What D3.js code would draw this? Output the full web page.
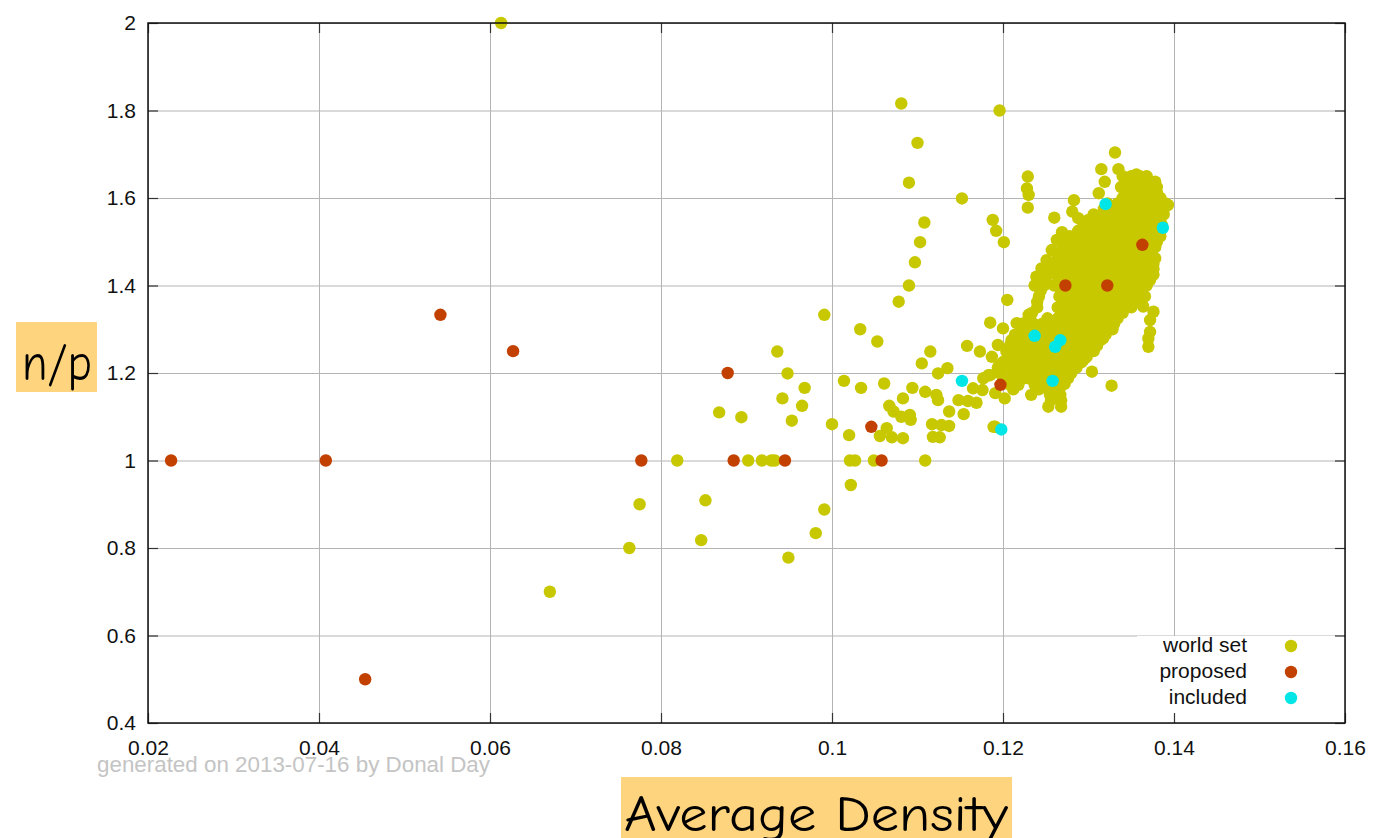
<!DOCTYPE html>
<html>
<head>
<meta charset="utf-8">
<script src="https://cdn.jsdelivr.net/npm/d3@7"></script>
<style>
  body { margin: 0; background: #fff; }
  .axis text { font-family: "Liberation Sans", Arial, Helvetica, sans-serif; font-size: 21px; fill: #111; }
  .axis path { display: none; }
  .axis line { stroke: #333; stroke-width: 1.2; }
  .grid line { stroke: #b4b4b4; stroke-width: 1; }
  .grid path { display: none; }
  .legend text { font-family: "Liberation Sans", Arial, Helvetica, sans-serif; font-size: 21px; fill: #111; }
  .label { font-family: "Comic Sans MS", "Comic Neue", "DejaVu Sans", sans-serif; fill: #000; }
</style>
</head>
<body>
<div class="chart"></div>
<script>
// axis ticks
var xTicks = [0.02, 0.04, 0.06, 0.08, 0.1, 0.12, 0.14, 0.16];
var xTickLabels = ["0.02", "0.04", "0.06", "0.08", "0.1", "0.12", "0.14", "0.16"];
var yTicks = [0.4, 0.6, 0.8, 1, 1.2, 1.4, 1.6, 1.8, 2];
var yTickLabels = ["0.4", "0.6", "0.8", "1", "1.2", "1.4", "1.6", "1.8", "2"];

var seriesNames = ["world set", "proposed", "included"];

// world set, scattered points [density, n/p]
var worldSet = [
  [0.0613, 2.0], [0.0670, 0.70], [0.0763, 0.80], [0.0775, 0.90], [0.0819, 1.0],
  [0.0847, 0.818], [0.0852, 0.909], [0.0868, 1.110], [0.0894, 1.099], [0.0902, 1.0],
  [0.0918, 1.0], [0.0929, 1.0], [0.0933, 1.0], [0.0936, 1.249], [0.0942, 1.142],
  [0.0948, 1.199], [0.0949, 0.778], [0.0953, 1.091], [0.0965, 1.125], [0.0968, 1.166],
  [0.0981, 0.834], [0.0991, 0.888], [0.0991, 1.333], [0.1000, 1.083], [0.1014, 1.182],
  [0.1020, 1.058], [0.1021, 1.0], [0.1022, 0.944], [0.1027, 1.0], [0.1033, 1.30],
  [0.1034, 1.166], [0.1049, 1.0], [0.1053, 1.272], [0.1061, 1.176], [0.1064, 1.074],
  [0.1056, 1.056], [0.1070, 1.053], [0.1083, 1.051], [0.1067, 1.125], [0.1072, 1.112],
  [0.1081, 1.10], [0.1091, 1.104], [0.1092, 1.093], [0.1083, 1.142], [0.1094, 1.166],
  [0.1109, 1.157], [0.1122, 1.150], [0.1124, 1.138], [0.1109, 1.0], [0.1117, 1.083],
  [0.1128, 1.081], [0.1137, 1.079], [0.1118, 1.054], [0.1126, 1.053], [0.1137, 1.112],
  [0.1148, 1.138], [0.1159, 1.136], [0.1169, 1.132], [0.1154, 1.106], [0.1165, 1.165],
  [0.1176, 1.161], [0.1177, 1.188], [0.1185, 1.195], [0.1191, 1.077], [0.1105, 1.222],
  [0.1124, 1.199], [0.1135, 1.211], [0.1115, 1.249], [0.1158, 1.262], [0.1173, 1.249],
  [0.1081, 1.816], [0.1196, 1.80], [0.1100, 1.726], [0.1090, 1.635], [0.1152, 1.599],
  [0.1108, 1.544], [0.1103, 1.499], [0.1097, 1.453], [0.1090, 1.400], [0.1078, 1.363],
  [0.1188, 1.550], [0.1192, 1.525], [0.1201, 1.499], [0.1205, 1.367], [0.1185, 1.315],
  [0.1200, 1.302], [0.1229, 1.649], [0.1228, 1.622], [0.1230, 1.607], [0.1229, 1.578],
  [0.1283, 1.595], [0.1281, 1.569], [0.1260, 1.555], [0.1269, 1.522], [0.1288, 1.554],
  [0.1331, 1.704], [0.1315, 1.666], [0.1335, 1.666], [0.1319, 1.637], [0.1356, 1.654],
  [0.1365, 1.637], [0.1380, 1.611], [0.1393, 1.584], [0.1312, 1.611],
  [0.1263, 1.504], [0.1257, 1.481], [0.1251, 1.458], [0.1245, 1.439], [0.1239, 1.420],
  [0.1237, 1.400], [0.1216, 1.314], [0.1220, 1.294], [0.1230, 1.333], [0.1194, 1.264],
  [0.1187, 1.237], [0.1204, 1.249], [0.1218, 1.264], [0.1210, 1.226], [0.1196, 1.218],
  [0.1183, 1.195], [0.1191, 1.154], [0.1202, 1.142], [0.1218, 1.173], [0.1230, 1.188],
  [0.1233, 1.150], [0.1253, 1.123], [0.1268, 1.123], [0.1255, 1.150], [0.1267, 1.150],
  [0.1237, 1.173], [0.1224, 1.195], [0.1304, 1.203], [0.1327, 1.171], [0.1189, 1.077],
  [0.1376, 1.340], [0.1372, 1.321], [0.1372, 1.294], [0.1370, 1.279], [0.1370, 1.260],
  [0.1364, 1.352], [0.1296, 1.234], [0.1308, 1.279], [0.1317, 1.279], [0.1294, 1.230],
  [0.1306, 1.253]
];

// world set, dense core read row by row: [n/p, [densities]]
var worldCore = [
  [1.65, [0.1340, 0.1350, 0.1360, 0.1368]],
  [1.6375, [0.1344, 0.1356, 0.1368, 0.1378]],
  [1.625, [0.1338, 0.1348, 0.1360, 0.1372, 0.1380]],
  [1.6125, [0.1344, 0.1356, 0.1368, 0.1380]],
  [1.60, [0.1340, 0.1352, 0.1364, 0.1376, 0.1384]],
  [1.5875, [0.1322, 0.1334, 0.1346, 0.1358, 0.1370, 0.1382, 0.1390]],
  [1.575, [0.1318, 0.1328, 0.1340, 0.1352, 0.1364, 0.1376, 0.1388]],
  [1.5625, [0.1306, 0.1318, 0.1330, 0.1342, 0.1354, 0.1366, 0.1378, 0.1388]],
  [1.55, [0.1300, 0.1312, 0.1324, 0.1336, 0.1348, 0.1360, 0.1372, 0.1384]],
  [1.5375, [0.1294, 0.1306, 0.1318, 0.1330, 0.1342, 0.1354, 0.1366, 0.1378, 0.1386]],
  [1.525, [0.1288, 0.1300, 0.1312, 0.1324, 0.1336, 0.1348, 0.1360, 0.1372, 0.1384]],
  [1.5125, [0.1278, 0.1290, 0.1302, 0.1314, 0.1326, 0.1338, 0.1350, 0.1362, 0.1374, 0.1384]],
  [1.50, [0.1272, 0.1284, 0.1296, 0.1308, 0.1320, 0.1332, 0.1344, 0.1356, 0.1368, 0.1380]],
  [1.4875, [0.1270, 0.1282, 0.1294, 0.1306, 0.1318, 0.1330, 0.1342, 0.1354, 0.1366, 0.1378]],
  [1.475, [0.1266, 0.1278, 0.1290, 0.1302, 0.1314, 0.1326, 0.1338, 0.1350, 0.1362, 0.1374]],
  [1.4625, [0.1264, 0.1276, 0.1288, 0.1300, 0.1312, 0.1324, 0.1336, 0.1348, 0.1360, 0.1372, 0.1378]],
  [1.45, [0.1260, 0.1272, 0.1284, 0.1296, 0.1308, 0.1320, 0.1332, 0.1344, 0.1356, 0.1368, 0.1376]],
  [1.4375, [0.1256, 0.1268, 0.1280, 0.1292, 0.1304, 0.1316, 0.1328, 0.1340, 0.1352, 0.1364, 0.1376]],
  [1.425, [0.1250, 0.1262, 0.1274, 0.1286, 0.1298, 0.1310, 0.1322, 0.1334, 0.1346, 0.1358, 0.1370, 0.1376]],
  [1.4125, [0.1250, 0.1266, 0.1278, 0.1290, 0.1302, 0.1314, 0.1326, 0.1340, 0.1352, 0.1364, 0.1372]],
  [1.40, [0.1248, 0.1260, 0.1272, 0.1284, 0.1296, 0.1308, 0.1320, 0.1334, 0.1346, 0.1358, 0.1368]],
  [1.3875, [0.1244, 0.1268, 0.1280, 0.1292, 0.1304, 0.1316, 0.1328, 0.1340, 0.1352, 0.1362]],
  [1.375, [0.1242, 0.1266, 0.1278, 0.1290, 0.1302, 0.1314, 0.1326, 0.1338, 0.1350, 0.1360, 0.1366]],
  [1.3625, [0.1240, 0.1270, 0.1282, 0.1294, 0.1306, 0.1318, 0.1330, 0.1342, 0.1354, 0.1360]],
  [1.35, [0.1240, 0.1264, 0.1276, 0.1288, 0.1300, 0.1312, 0.1324, 0.1336, 0.1350]],
  [1.3375, [0.1234, 0.1270, 0.1282, 0.1294, 0.1306, 0.1318, 0.1330, 0.1340]],
  [1.325, [0.1230, 0.1252, 0.1264, 0.1276, 0.1288, 0.1300, 0.1312, 0.1324, 0.1334]],
  [1.3125, [0.1222, 0.1236, 0.1246, 0.1258, 0.1270, 0.1282, 0.1294, 0.1306, 0.1318, 0.1330]],
  [1.30, [0.1226, 0.1238, 0.1250, 0.1262, 0.1274, 0.1286, 0.1298, 0.1310, 0.1322, 0.1328]],
  [1.2875, [0.1214, 0.1228, 0.1240, 0.1252, 0.1264, 0.1276, 0.1288, 0.1300, 0.1312, 0.1320]],
  [1.275, [0.1210, 0.1222, 0.1234, 0.1246, 0.1258, 0.1270, 0.1282, 0.1294, 0.1306, 0.1314]],
  [1.2625, [0.1208, 0.1220, 0.1232, 0.1244, 0.1256, 0.1268, 0.1280, 0.1292, 0.1302, 0.1310]],
  [1.25, [0.1214, 0.1226, 0.1238, 0.1250, 0.1262, 0.1274, 0.1286, 0.1298, 0.1306]],
  [1.2375, [0.1206, 0.1218, 0.1230, 0.1242, 0.1254, 0.1266, 0.1278, 0.1290, 0.1298]],
  [1.225, [0.1200, 0.1222, 0.1234, 0.1246, 0.1258, 0.1270, 0.1282, 0.1292]],
  [1.2125, [0.1194, 0.1206, 0.1218, 0.1230, 0.1242, 0.1254, 0.1266, 0.1278, 0.1286]],
  [1.20, [0.1196, 0.1212, 0.1236, 0.1248, 0.1260, 0.1272, 0.1280]],
  [1.1875, [0.1200, 0.1212, 0.1224, 0.1242, 0.1254, 0.1266, 0.1276]],
  [1.175, [0.1206, 0.1248, 0.1260, 0.1272]],
  [1.1625, [0.1212, 0.1242, 0.1254, 0.1266]],
  [1.15, [0.1262]],
  [1.1375, [0.1256, 0.1268]]
];

var proposed = [
  [0.0227, 1.0], [0.0408, 1.0], [0.0454, 0.5], [0.0542, 1.333], [0.0627, 1.25],
  [0.0777, 1.0], [0.0878, 1.2], [0.0885, 1.0], [0.0945, 1.0], [0.1046, 1.077],
  [0.1058, 1.0], [0.1197, 1.173], [0.1273, 1.4], [0.1322, 1.4], [0.1363, 1.493]
];

var included = [
  [0.1152, 1.182], [0.1198, 1.071], [0.1237, 1.285], [0.1258, 1.182], [0.1261, 1.260],
  [0.1267, 1.275], [0.1320, 1.586], [0.1387, 1.532]
];

var colors = ["#c8c800", "#c24000", "#00e6e6"];

var svgWidth = 1399;
var svgHeight = 838;
var margin = { top: 23, right: 54, bottom: 115, left: 148 };
var width = svgWidth - margin.left - margin.right;
var height = svgHeight - margin.top - margin.bottom;

var svg = d3.select(".chart")
  .append("svg")
  .attr("width", svgWidth)
  .attr("height", svgHeight)
  .style("display", "block");

svg.append("rect").attr("width", svgWidth).attr("height", svgHeight).attr("fill", "#fff");

var chartGroup = svg.append("g")
  .attr("transform", `translate(${margin.left}, ${margin.top})`);

var xScale = d3.scaleLinear().domain([0.02, 0.16]).range([0, width]);
var yScale = d3.scaleLinear().domain([0.4, 2]).range([height, 0]);

// grid
chartGroup.append("g")
  .attr("class", "grid")
  .attr("transform", `translate(0, ${height})`)
  .call(d3.axisBottom(xScale).tickValues(xTicks).tickSize(-height).tickFormat(""));
chartGroup.append("g")
  .attr("class", "grid")
  .call(d3.axisLeft(yScale).tickValues(yTicks).tickSize(-width).tickFormat(""));

// points
var worldAll = worldSet.slice();
worldCore.forEach(function(row) {
  row[1].forEach(function(x) { worldAll.push([x, row[0]]); });
});

[worldAll, proposed, included].forEach(function(series, i) {
  chartGroup.append("g").selectAll("circle")
    .data(series)
    .enter()
    .append("circle")
    .attr("cx", d => xScale(d[0]))
    .attr("cy", d => yScale(d[1]))
    .attr("r", 6.2)
    .attr("fill", colors[i]);
});

// legend box (covers grid)
var legend = chartGroup.append("g").attr("class", "legend");
legend.append("rect")
  .attr("x", 989).attr("y", 613)
  .attr("width", width - 989 - 1).attr("height", height - 613 - 1)
  .attr("fill", "#fff");
seriesNames.forEach(function(name, i) {
  legend.append("text")
    .attr("x", 1099).attr("y", 629 + i * 26)
    .attr("text-anchor", "end")
    .text(name);
  legend.append("circle")
    .attr("cx", 1143).attr("cy", 623 + i * 26)
    .attr("r", 6.2)
    .attr("fill", colors[i]);
});

// axes with inward ticks
chartGroup.append("g")
  .attr("class", "axis")
  .attr("transform", `translate(0, ${height})`)
  .call(d3.axisBottom(xScale).tickValues(xTicks).tickSizeInner(-10).tickSizeOuter(0).tickPadding(17)
    .tickFormat((d, i) => xTickLabels[i]));
chartGroup.append("g")
  .attr("class", "axis")
  .call(d3.axisLeft(yScale).tickValues(yTicks).tickSizeInner(-10).tickSizeOuter(0).tickPadding(12)
    .tickFormat((d, i) => yTickLabels[i]));
chartGroup.append("g")
  .attr("class", "axis")
  .call(d3.axisTop(xScale).tickValues(xTicks).tickSizeInner(-10).tickSizeOuter(0).tickFormat(""));
chartGroup.append("g")
  .attr("class", "axis")
  .attr("transform", `translate(${width}, 0)`)
  .call(d3.axisRight(yScale).tickValues(yTicks).tickSizeInner(-10).tickSizeOuter(0).tickFormat(""));

// frame
chartGroup.append("rect")
  .attr("width", width).attr("height", height)
  .attr("fill", "none")
  .attr("stroke", "#111")
  .attr("stroke-width", 1.5);

// axis labels
svg.append("rect").attr("x", 16).attr("y", 322).attr("width", 81).attr("height", 70).attr("fill", "#ffd47e");
svg.append("text")
  .attr("class", "label")
  .attr("x", 22).attr("y", 380)
  .attr("font-size", 52)
  .attr("textLength", 70).attr("lengthAdjust", "spacingAndGlyphs")
  .text("n/p");

svg.append("rect").attr("x", 621).attr("y", 777).attr("width", 391).attr("height", 70).attr("fill", "#ffd47e");
svg.append("text")
  .attr("class", "label")
  .attr("x", 624).attr("y", 831)
  .attr("font-size", 50)
  .attr("textLength", 384).attr("lengthAdjust", "spacingAndGlyphs")
  .text("Average Density");

svg.append("text")
  .attr("x", 97).attr("y", 772)
  .attr("font-family", "Liberation Sans, Arial, Helvetica, sans-serif")
  .attr("font-size", 22)
  .attr("textLength", 393).attr("lengthAdjust", "spacingAndGlyphs")
  .attr("fill", "#c4c4c4")
  .text("generated on 2013-07-16 by Donal Day");
</script>
</body>
</html>
